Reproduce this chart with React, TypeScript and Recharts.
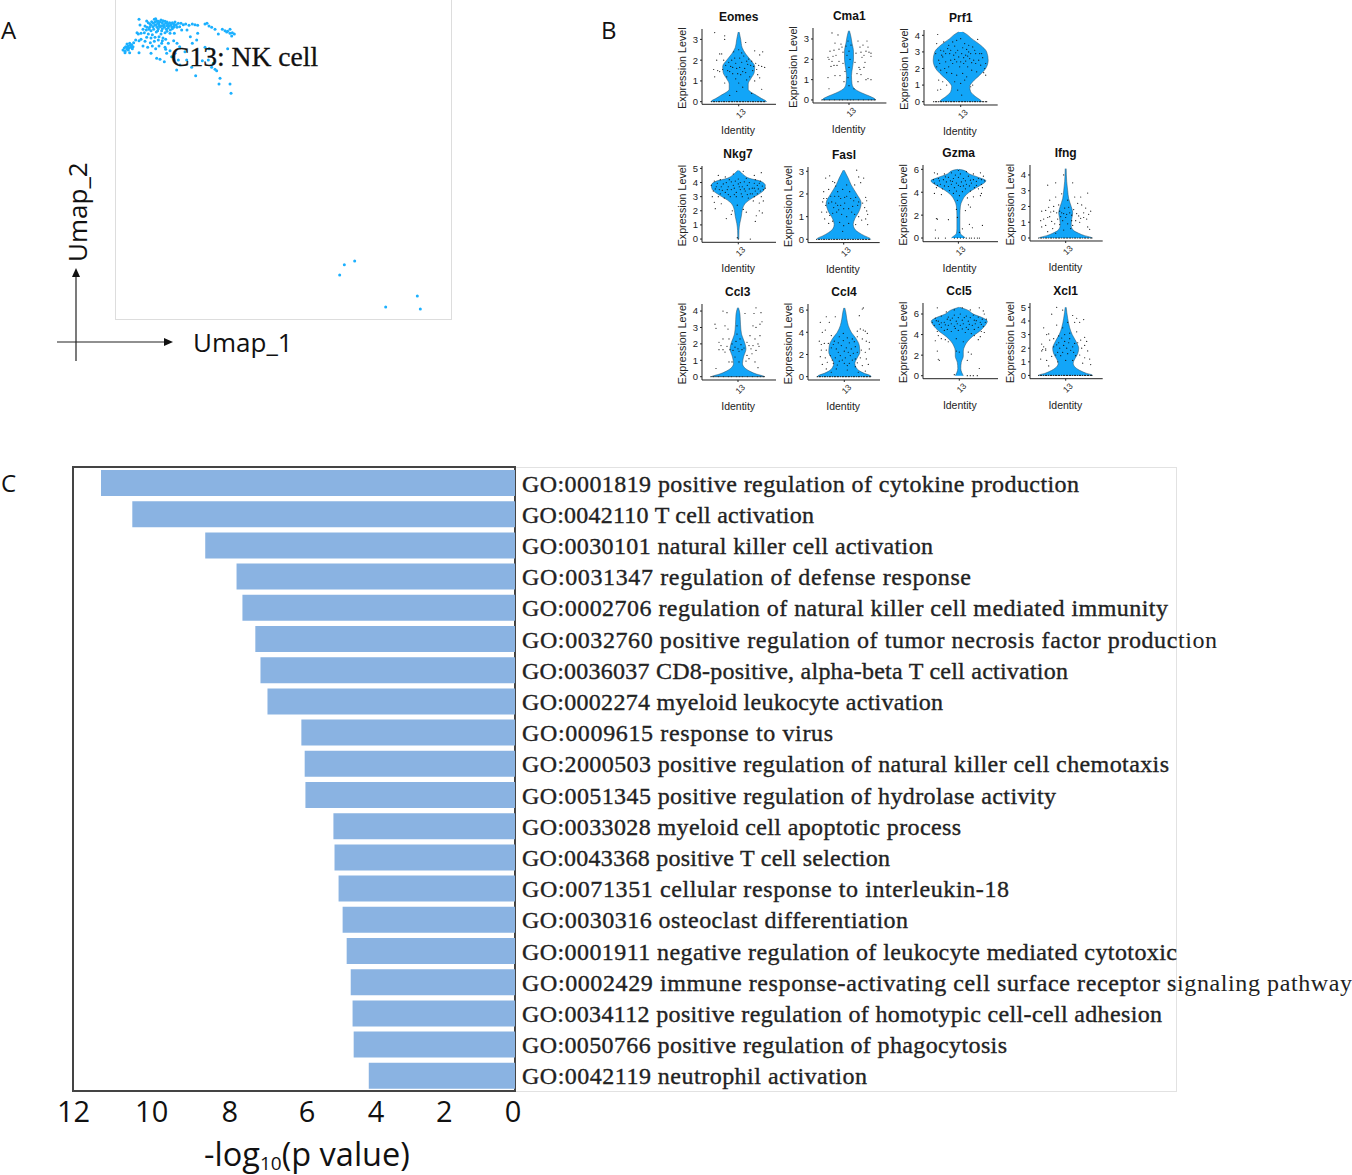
import React from "react";
import { Area, Bar, BarChart, ComposedChart, ReferenceArea, Scatter, ScatterChart, XAxis, YAxis } from "recharts";

// panel A, umap embedding (hidden axes, units are arbitrary)
const umapPoints = [
  [72,28],[75,45],[95,33],[100,38],[105,42],[110,35],[118,28],[122,26],[125,32],[128,38],[132,42],[135,35],[138,30],[142,38],[146,44],[150,34],[152,40],[156,36],[160,42],[164,38],[168,44],[172,38],[176,42],[180,36],[184,44],[190,40],[198,40],[205,44],[212,42],[222,46],[232,42],[240,44],[248,46],[270,42],[276,40],[282,48],[290,52],[300,58],[310,72],[322,58],[330,62],[338,64],[345,70],[352,68],[358,72],[350,78],[345,58],[335,66],
  [90,48],[96,52],[102,58],[108,62],[114,50],[120,46],[126,52],[130,56],[136,50],[142,56],[148,52],[154,58],[160,54],[166,60],[172,56],[178,70],[165,70],[150,68],[138,72],[124,66],[112,74],[100,72],[88,68],[84,58],[78,70],[70,72],[66,68],[95,82],[108,84],[120,82],[132,80],[144,84],[152,88],[142,92],[130,90],[118,94],[106,98],[90,94],[78,88],[72,92],[62,90],[56,98],[50,104],[44,100],[40,108],[36,102],[32,110],[28,114],[24,120],[30,124],[36,118],[42,114],[48,112],[54,110],[44,128],[30,128],[72,128],[84,108],[98,112],[112,108],[122,116],[108,130],[132,108],[140,100],[150,112],[160,100],[176,92],[186,100],[194,110],[200,60],[216,60],[226,80],[232,100],[248,70],[245,90],[165,122],[155,130],[170,140],[148,155],[135,148],[125,145],[152,118],[180,130],[185,180],[195,165],[230,172],[215,150],[262,152],[270,112],[282,116],[338,116],[290,172],[300,178],[305,182],[315,205],[345,222],[312,222],[348,250],[242,197],[280,150],[295,160],[190,150],[210,125],
  [108,46],[115,40],[124,44],[133,47],[140,47],[147,48],[155,47],[162,48],[170,50],[178,48],[186,52],[194,50],[116,58],[128,62],[140,62],[156,64],[104,52],[94,60],[120,36],[130,34],[144,32],[158,46],[176,52],[36,112],[40,120],[46,106],[52,116],
  [674,795],[688,764],[719,753],[812,891],[907,858],[916,897],
];

// panel B, violin outlines as [expression level, half width]
const eomesProfile = [[0,28],[0.05,27],[0.15,23],[0.3,18],[0.45,12.5],[0.6,9.5],[0.85,9.5],[1.1,12],[1.4,15.5],[1.7,16],[2,12],[2.3,7],[2.6,3.5],[3,2],[3.35,0.5]];
const cma1Profile = [[0,27],[0.05,26],[0.18,21],[0.34,13],[0.6,4.5],[0.8,3],[1.2,2.5],[1.6,3.5],[2,4.5],[2.4,4.5],[2.8,3],[3.1,2],[3.4,0.5]];
const prf1Profile = [[0,21],[0.05,20.5],[0.3,15],[0.6,10],[0.9,9],[1.2,12],[1.6,19],[2,25],[2.5,27.5],[3,26],[3.4,20],[3.8,11],[4.1,5],[4.2,2]];
const nkg7Profile = [[0,0.5],[0.6,0.7],[1.1,1.5],[1.6,3],[2.2,4.5],[2.6,8],[2.9,14],[3.2,21],[3.5,26],[3.8,27],[4.1,22],[4.3,11],[4.5,6],[4.7,3],[4.85,0.5]];
const faslProfile = [[0,27],[0.05,26],[0.15,21],[0.3,15],[0.45,11],[0.65,9.5],[0.9,11],[1.2,15],[1.6,17.5],[2,13],[2.4,7.5],[2.7,4.5],[3.05,0.5]];
const gzmaProfile = [[0,7],[0.15,5],[0.4,2],[0.8,1.5],[2,1.5],[2.8,2],[3.3,4],[3.8,8],[4.2,14],[4.6,22],[5,27.5],[5.3,20],[5.6,11],[5.9,6],[6,0.5]];
const ifngProfile = [[0,27],[0.05,25],[0.15,19],[0.3,13],[0.5,7.5],[0.8,5.5],[1.2,6],[1.6,7],[2,5.5],[2.5,3],[3,2],[3.6,1],[4.4,0.5]];
const ccl3Profile = [[0,27],[0.05,25],[0.15,19],[0.3,13],[0.5,7.5],[0.8,4.5],[1.2,5.5],[1.7,8],[2.1,6.5],[2.6,3.5],[3.2,2.5],[3.8,2],[4.2,0.5]];
const ccl4Profile = [[0,27],[0.1,26],[0.3,20],[0.5,15.5],[0.8,12],[1.2,10.5],[1.7,13],[2.2,15.5],[2.8,15],[3.4,12],[4,7],[4.6,4],[5.2,2.5],[5.8,1.5],[6.2,0.5]];
const ccl5Profile = [[0,4],[0.3,2.5],[0.7,1.5],[1.3,2],[1.9,4],[2.4,4],[2.9,5.5],[3.3,8],[3.8,13],[4.3,20],[4.9,26],[5.3,28],[5.6,24],[6,14],[6.4,8],[6.65,0.5]];
const xcl1Profile = [[0,27],[0.05,26],[0.15,21],[0.3,16],[0.6,9.5],[0.9,7.5],[1.2,9],[1.6,12],[2,13],[2.4,11],[3,6.5],[3.5,4],[4.2,2],[5,0.5]];

// jittered cells as [jitter, expression level]
const zeroRow = [[-27,0],[-25,0],[-24,0],[-22,0],[-20,0],[-19,0],[-17,0],[-15,0],[-14,0],[-12,0],[-10,0],[-9,0],[-7,0],[-6,0],[-4,0],[-2,0],[-1,0],[1,0],[2,0],[4,0],[5,0],[7,0],[9,0],[10,0],[12,0],[14,0],[15,0],[17,0],[19,0],[20,0],[22,0],[23,0],[25,0],[26,0]];
const eomesPoints = [[-24,3.33],[-14,3.17],[-14,3.0],[7,2.85],[-19,2.3],[-17,2.3],[16,2.45],[24,2.4],[21,2.25],[-22,2],[-15,2],[17,1.85],[23,1.7],[26,1.65],[20,1.75],[-25,1.55],[-21,1.5],[-19,1.45],[-24,1.2],[-14,0.9],[11,1.2],[19,1.3],[21,1.15],[8,1.05],[-8,1.7],[-4,2.1],[0,2.5],[3,1.9],[6,1.6],[9,1.8],[-6,1.35],[-2,1.6],[2,1.3],[5,2.2],[-10,1.9],[-11,1.5],[12,1.75],[14,1.5],[-3,1.1],[0,0.9],[4,0.7],[-2,0.5],[23,0.6],[13,0.4],[-9,0.3],[10,2.05],[-5,2.4],[7,1.4],[-12,1.2],[16,1.0],[-7,2],[-3,1.85],[1,2.1],[4,1.45],[8,1.95],[-9,1.45],[-13,1.75],[13,1.95],[15,1.7],[18,1.55],[-16,1.55],[-1,1.35],[1,1.65],[3,2.35],[-6,1.65]];
const cma1Points = [[-17,3.3],[-11,3.2],[-14,2.8],[-8,2.75],[-19,2.4],[-15,2.45],[-21,2.1],[-20,2],[-17,1.9],[-13,2.2],[-7,2.6],[-3,2.65],[9,2.9],[18,2.9],[11,2.6],[14,2.7],[19,2.6],[20,2.35],[22,2.3],[17,2.4],[13,2.1],[22,2.15],[-10,1.9],[-12,1.7],[-15,1.7],[-6,1.8],[10,1.6],[11,1.5],[15,1.6],[8,1.3],[12,1.25],[19,1.05],[22,1],[17,1.0],[9,0.9],[-21,1.1],[-14,1.2],[-9,1.2],[-20,0.55],[-5,0.9],[-2,2.2],[0,1.6],[1,2.0],[2,2.7],[-1,1.1],[0,0.7],[5,0.55],[-16,2.15],[-18,1.65],[-6,2.35],[-10,2.5],[12,2.35],[15,2.2],[16,1.85],[7,2.3],[6,1.85],[-4,1.4],[-1,2.9],[0,2.4]];
const prf1Points = [[-23,4.05],[-24,3.5],[-17,3.6],[-25,2.9],[-24,2.1],[-20,3.1],[-15,2.9],[-12,3.4],[-8,3.6],[-4,3.7],[0,3.8],[4,3.5],[8,3.4],[12,3.3],[17,3.75],[15,2.9],[21,2.9],[25,2.3],[24,2],[23,1.75],[25,1.6],[-22,2.5],[-18,2.7],[-15,2.4],[-11,2.9],[-7,2.8],[-3,3.1],[1,2.9],[5,2.8],[9,2.6],[13,2.5],[18,2.5],[20,2.2],[-20,1.9],[-16,2],[-12,2.1],[-8,2.3],[-4,2.4],[0,2.4],[3,2.3],[7,2.1],[11,1.9],[16,1.8],[-9,1.7],[-4,1.6],[2,1.7],[6,1.5],[-6,1.2],[0,1.1],[4,1.3],[12,1],[-20,0.75],[-23,0.7],[-22,1.3],[-14,1],[-18,1.2],[10,0.9],[-3,0.7],[1,0.4],[-6,3.35],[8,3],[-13,3.2],[14,3.1],[-19,2.8],[-17,3.05],[-10,2.5],[-6,2.55],[-2,2.7],[2,3.25],[3,2.65],[6,3.15],[10,2.9],[11,2.35],[15,2.3],[19,2.9],[22,2.65],[-14,1.75],[-10,3.1],[-1,2.1],[5,2.45],[-5,2.95],[-21,2.3],[7,2.75]];
const nkg7Points = [[-20,4.5],[-13,4.4],[-5,4.6],[5,4.8],[16,4.5],[23,4.7],[-24,4.1],[-18,4.2],[-9,4.2],[0,4.25],[8,4.3],[17,4.2],[22,4.1],[-27,3.8],[-22,3.7],[-15,3.9],[-10,3.7],[-5,3.8],[0,3.9],[4,3.7],[9,3.8],[14,3.6],[19,3.8],[24,3.75],[-25,3.4],[-19,3.5],[-13,3.3],[-7,3.5],[-2,3.3],[2,3.5],[7,3.4],[12,3.2],[17,3.4],[22,3.4],[27,3.6],[-26,3],[-20,3],[-14,2.9],[-8,3],[-2,3],[4,3],[10,2.9],[16,3],[23,3],[-24,2.6],[-17,2.5],[15,2.7],[21,2.55],[25,2.7],[-23,2.15],[-6,2],[-7,1.75],[8,1.9],[21,2],[24,1.85],[18,1.65],[-12,1.45],[17,1.25],[5,2.1],[-1,2.4],[-1,0.1],[0,0],[12,0],[-21,3.95],[-17,3.7],[-12,4],[-7,4.05],[-3,4.1],[2,4],[6,4.05],[11,4],[16,3.95],[21,3.95],[-23,3.55],[-16,3.45],[-11,3.5],[-4,3.6],[1,3.7],[6,3.55],[11,3.55],[16,3.6],[20,3.55],[25,3.5],[-18,3.2],[-10,3.15],[-4,3.15],[3,3.2],[9,3.15],[14,3.2],[19,3.2]];
const faslPoints = [[-14,2.8],[-18,2.7],[-11,2.55],[-8,2.35],[-20,2.1],[-15,2.2],[-9,2.5],[-6,2.1],[15,2.75],[20,2.7],[13,3.05],[17,2.5],[11,2.4],[-20,1.8],[-17,1.8],[-21,1.65],[-15,1.6],[-18,1.5],[-13,1.9],[22,1.85],[23,1.7],[19,1.6],[15,1.65],[21,1.4],[23,1.25],[24,1.1],[-22,1.2],[-17,1.2],[-14,1.05],[-19,0.9],[-15,0.7],[-11,0.8],[15,1],[18,0.85],[22,0.9],[24,0.65],[12,0.65],[-8,1.6],[-5,1.9],[-1,2.2],[3,2.4],[7,1.8],[10,1.7],[-3,1.5],[1,1.6],[5,1.35],[-7,1.2],[-2,1.1],[3,1],[8,1.2],[-4,0.75],[0,0.6],[5,0.7],[-1,0.35],[3,1.9],[-10,1.4],[-12,1.65],[-9,1.9],[-6,1.5],[-3,1.8],[1,1.85],[6,2.1],[9,1.45],[12,1.85],[14,1.5],[-11,1.15],[-5,1.3],[0,1.35],[11,1.1]];
const gzmaPoints = [[-24,5.7],[-21,5.6],[-14,5.6],[-7,5.7],[0,5.9],[8,5.8],[15,5.6],[22,5.7],[25,5.4],[-25,5.1],[-20,5.2],[-15,5.1],[-10,5.3],[-5,5.2],[0,5.3],[5,5.2],[10,5.4],[15,5.1],[20,5.2],[26,5],[-24,4.8],[-18,4.7],[-12,4.9],[-7,4.7],[-2,4.8],[3,4.9],[8,4.7],[13,4.8],[18,4.6],[23,4.7],[-22,4.4],[-16,4.3],[-10,4.5],[-4,4.4],[2,4.5],[7,4.3],[12,4.1],[20,4.3],[24,4.4],[23,3.9],[-24,3.9],[-17,3.8],[-5,3.9],[1,3.7],[9,3.5],[15,3.6],[22,3.7],[-1,3.3],[10,2.9],[12,2.7],[7,2.4],[-2,2.5],[-22,1.7],[-21,1.65],[-10,1.6],[-1,1.8],[11,1.2],[14,0.9],[-23,0.7],[4,0.8],[1,0.5],[-23,0],[-20,0],[-13,0],[24,1.1],[-4,0],[-1,0],[2,0],[5,0],[8,0],[11,0],[13,0],[16,0],[19,0],[21,0],[-19,5],[-13,5.35],[-8,5],[-3,5.5],[2,5.6],[7,5],[12,5.05],[18,4.95],[23,5.1],[-21,4.6],[-14,4.55],[-6,4.95],[0,4.6],[5,4.55],[11,4.55],[16,4.4],[-9,4.15],[-2,4.1],[4,4.05]];
const ifngPoints = [[-18,3.35],[-10,3.5],[-2,4],[7,3.5],[-16,2.4],[-10,2.6],[-4,2.8],[9,2.6],[15,2.6],[22,2.85],[-17,1.95],[-12,2],[-7,2.1],[2,2.4],[12,2.2],[16,2.1],[20,1.9],[-24,1.7],[-20,1.75],[-15,1.65],[-12,1.7],[-6,1.7],[-4,1.6],[-1,1.9],[1,1.5],[4,1.6],[8,1.8],[11,1.55],[18,1.6],[23,1.5],[25,1.7],[-25,1.1],[-22,1.2],[-18,1.3],[-14,1.05],[-8,1.2],[-3,1.1],[0,1.3],[2,0.9],[6,1.1],[10,1.1],[14,1],[18,1.3],[21,1.2],[-24,0.7],[-20,0.8],[-13,0.6],[-2,0.5],[5,0.6],[22,0.7],[24,0.55],[-18,0.4],[-10,0.3],[-9,1.6],[-5,1.35],[-2,1.55],[3,1.95],[6,1.45],[13,1.4],[15,1.25],[-16,1.35],[-11,0.9],[-6,0.85],[7,0.8]];
const ccl3Points = [[-15,4],[-11,3.9],[7,3.85],[18,4.2],[16,3.85],[23,3.9],[-23,3.2],[-22,2.95],[-13,3.1],[-10,2.9],[15,3.1],[18,3],[22,3.2],[24,3.35],[12,2.5],[22,2.5],[-19,2.1],[-15,2.3],[-9,2.3],[9,2.1],[17,2.3],[20,2],[15,1.9],[-19,1.65],[-15,1.65],[-11,1.85],[-8,1.65],[-3,1.8],[2,2.3],[4,1.65],[9,1.3],[14,1.4],[18,1.6],[-9,0.9],[-6,0.9],[-3,1.2],[1,0.9],[8,0.95],[11,1.1],[17,0.9],[20,0.55],[-22,0.5],[-1,2.6],[0,1.7],[-1,3.1],[-5,1.6],[-2,2.15],[1,1.55],[3,1.95],[-6,2],[6,1.75],[11,1.9],[13,1.7],[-13,1.5],[21,1.85],[-17,1.9]];
const ccl4Points = [[-24,4.9],[-18,5.4],[-9,5.4],[15,5.5],[18,6.1],[19,6.2],[-22,4],[-19,4.2],[-13,3.7],[13,4.1],[16,4.3],[19,4.2],[21,4.1],[23,3.9],[-25,3.2],[-23,2.9],[-20,3],[-16,3],[-10,3.2],[-5,3.6],[-1,3.9],[3,3.5],[8,3.4],[13,3.6],[18,3.4],[22,3.2],[25,3.1],[-23,2.4],[-18,2.4],[-13,2.6],[-8,2.5],[-3,2.8],[2,2.6],[7,2.5],[11,2.7],[17,2.4],[21,2.2],[25,2.5],[-24,1.8],[-19,1.7],[-14,1.9],[-9,1.7],[-4,1.9],[1,1.7],[6,1.9],[11,1.6],[16,1.7],[22,1.6],[-22,1.1],[-17,1.3],[-11,1.2],[-5,1.4],[0,1.2],[5,1.2],[11,0.9],[18,1],[24,1.1],[-18,0.7],[-8,0.7],[3,0.6],[21,0.5],[-13,0.4],[14,0.4],[-15,4.9],[-6,3.05],[-1,3.25],[5,3.05],[10,3.15],[-11,2.9],[-6,2.2],[0,2.3],[4,2.2],[9,2.1],[13,2.2],[-12,1.5],[-2,1.5],[8,1.5],[-7,1.05],[3,1],[13,1.25]];
const ccl5Points = [[-22,6.6],[-13,6.2],[-5,6.4],[3,6.6],[11,6.4],[20,6.6],[24,6.3],[-24,5.6],[-18,5.8],[-11,5.7],[-5,5.9],[1,6],[7,5.8],[14,5.9],[19,5.7],[25,6],[27,5.5],[-27,5.2],[-21,5.3],[-15,5.2],[-9,5.4],[-3,5.3],[3,5.4],[9,5.3],[15,5.4],[21,5.2],[26,5.2],[-25,4.9],[-18,4.7],[-11,4.9],[-5,4.8],[1,4.9],[7,4.7],[13,4.9],[19,4.7],[24,4.8],[-22,4.3],[-15,4.4],[-8,4.3],[-1,4.4],[6,4.2],[12,4.1],[22,4.3],[25,4.2],[-21,3.9],[-14,3.5],[-18,3.6],[-24,3.4],[-11,3.3],[-3,3.6],[4,3.3],[15,3.9],[19,3.5],[21,3.8],[-3,2.4],[0,2.3],[9,2.3],[12,2.1],[-22,2.4],[-21,1.6],[-20,1.5],[8,1.5],[20,0.7],[-5,0.1],[8,0],[11,0],[14,0],[18,0],[-23,5.35],[-18,5.15],[-12,5.5],[-7,5.6],[-1,5.65],[5,5.65],[11,5.65],[17,5.35],[23,5.5],[-20,5],[-14,4.95],[-8,5.05],[-2,5.05],[4,5.05],[10,5],[16,5.05],[22,5],[-12,4.5],[-4,4.6],[3,4.55],[9,4.5],[15,4.5]];
const xcl1Points = [[-22,3.5],[-19,3],[-14,4.5],[-17,3.05],[-9,5],[-3,4.8],[7,4.4],[11,4.2],[-9,3.7],[-3,3.5],[2,3.9],[9,3.9],[14,3.9],[18,4.1],[-24,2.3],[-22,2.1],[-20,1.95],[-23,1.9],[-20,1.85],[-24,1.8],[-16,2.6],[-12,2.7],[-7,2.9],[-1,3],[4,3.1],[11,3.2],[15,2.6],[19,2.8],[21,2.5],[-12,2.1],[-7,2.4],[-2,2.2],[3,2.4],[7,2.1],[12,2.4],[16,2],[19,2.2],[22,1.8],[-25,1.2],[-19,1.1],[-14,1.4],[-8,1.7],[-3,1.7],[2,1.6],[8,1.7],[14,1.5],[19,1.3],[24,1.2],[-17,0.7],[-8,1],[0,1.1],[7,1.1],[17,0.9],[25,0.8],[-6,2],[-1,2.5],[1,2],[5,1.85],[9,2.35],[-9,2.25],[-5,1.45],[4,2.7],[-4,2.75],[10,1.45],[-10,1.5]];

// layout of each violin: gene, outline, cells, y domain, y ticks, [axis x, right end, centre, plot top, plot bottom]
const violins: any[] = [
  { gene: "Eomes", profile: eomesProfile, points: [...eomesPoints, ...zeroRow], domain: [-0.125, 3.5], ticks: [0,1,2,3], box: [702, 776, 738.7, 29, 104.3] },
  { gene: "Cma1", profile: cma1Profile, points: [...cma1Points, ...zeroRow], domain: [-0.15, 3.54], ticks: [0,1,2,3], box: [813.3, 886.7, 849.3, 28.3, 103.3] },
  { gene: "Prf1", profile: prf1Profile, points: [...prf1Points, ...zeroRow], domain: [-0.2, 4.32], ticks: [0,1,2,3,4], box: [924, 997.7, 960.7, 30, 105] },
  { gene: "Nkg7", profile: nkg7Profile, points: nkg7Points, domain: [-0.23, 5.17], ticks: [0,1,2,3,4,5], box: [701.7, 776, 738, 166, 242.3] },
  { gene: "Fasl", profile: faslProfile, points: [...faslPoints, ...zeroRow], domain: [-0.146, 3.19], ticks: [0,1,2,3], box: [808.3, 880, 844, 166.7, 242.3] },
  { gene: "Gzma", profile: gzmaProfile, points: gzmaPoints, domain: [-0.32, 6.38], ticks: [0,2,4,6], box: [923.3, 998.3, 958.7, 165, 241.7] },
  { gene: "Ifng", profile: ifngProfile, points: [...ifngPoints, ...zeroRow], domain: [-0.19, 4.63], ticks: [0,1,2,3,4], box: [1030, 1102.7, 1065.7, 165, 241] },
  { gene: "Ccl3", profile: ccl3Profile, points: [...ccl3Points, ...zeroRow], domain: [-0.2, 4.43], ticks: [0,1,2,3,4], box: [701.7, 776, 737.7, 304, 380] },
  { gene: "Ccl4", profile: ccl4Profile, points: [...ccl4Points, ...zeroRow], domain: [-0.3, 6.55], ticks: [0,2,4,6], box: [807.7, 880, 844, 304, 380] },
  { gene: "Ccl5", profile: ccl5Profile, points: ccl5Points, domain: [-0.29, 7.07], ticks: [0,2,4,6], box: [922.7, 998.3, 959, 303.3, 379] },
  { gene: "Xcl1", profile: xcl1Profile, points: [...xcl1Points, ...zeroRow], domain: [-0.24, 5.32], ticks: [0,1,2,3,4,5], box: [1030, 1102.7, 1065.7, 303.3, 379] },
];

// panel C
const goTerms = [
  "GO:0001819 positive regulation of cytokine production",
  "GO:0042110 T cell activation",
  "GO:0030101 natural killer cell activation",
  "GO:0031347 regulation of defense response",
  "GO:0002706 regulation of natural killer cell mediated immunity",
  "GO:0032760 positive regulation of tumor necrosis factor production",
  "GO:0036037 CD8-positive, alpha-beta T cell activation",
  "GO:0002274 myeloid leukocyte activation",
  "GO:0009615 response to virus",
  "GO:2000503 positive regulation of natural killer cell chemotaxis",
  "GO:0051345 positive regulation of hydrolase activity",
  "GO:0033028 myeloid cell apoptotic process",
  "GO:0043368 positive T cell selection",
  "GO:0071351 cellular response to interleukin-18",
  "GO:0030316 osteoclast differentiation",
  "GO:0001911 negative regulation of leukocyte mediated cytotoxic",
  "GO:0002429 immune response-activating cell surface receptor signaling pathway",
  "GO:0034112 positive regulation of homotypic cell-cell adhesion",
  "GO:0050766 positive regulation of phagocytosis",
  "GO:0042119 neutrophil activation",
];
const goValues = [11.24,10.39,8.41,7.56,7.4,7.05,6.91,6.72,5.8,5.71,5.69,4.93,4.9,4.79,4.68,4.57,4.46,4.41,4.38,3.97];
const goTicks = [12,10,8,6,4,2,0];
// the hand placed axis numbers in the figure drift from the true scale
const goTickNudge: Record<number, number> = { 12: 0.5, 10: 5, 8: 9.5, 6: 13, 4: 8.5, 2: 3, 0: -2 };
// rendered width of each label, the source font is not installed
const goLabelWidths = [557,292,411,449,646,695,546,421,311,647,534,439,368,487,386,655,830,640,485,345];
// these label ends spill out of the pasted picture and look lighter
const goLightTails: Record<string, string> = {
  "GO:0032760 positive regulation of tumor necrosis factor production": "tion",
  "GO:0002429 immune response-activating cell surface receptor signaling pathway": "ignaling pathway",
};

const goData = goTerms.map((term, i) => ({ term, value: goValues[i] }));
const umapData = umapPoints.map(([x, y]) => ({ x, y }));

const SANS = "'Open Sans', sans-serif";
const SERIF = "'Liberation Serif', serif";
const ARIAL = "'Liberation Sans', sans-serif";

function Dot({ cx, cy, r, fill }: any) {
  return <circle cx={cx} cy={cy} r={r} fill={fill} />;
}

function ExpressionLabel({ viewBox, axisX }: any) {
  const x = axisX - 19;
  const y = viewBox.y + viewBox.height / 2 + 1.5;
  return (
    <text transform={`translate(${x},${y}) rotate(-90)`} textAnchor="middle" dominantBaseline="middle" fontFamily={ARIAL} fontSize={10.7} fill="#222">
      Expression Level
    </text>
  );
}

function Violin({ v }: { v: any }) {
  const [axisX, right, centre, top, bottom] = v.box;
  const yAxisW = 30;
  const pad = 8;
  const data = v.profile.map(([level, w]: number[]) => ({ level, band: [-w, w] }));
  const cells = v.points.map(([x, level]: number[]) => ({ x, level }));
  const w = right - axisX + yAxisW;
  const h = bottom - top + 34 + pad * 2;
  return (
    <div style={{ position: "absolute", left: axisX - yAxisW, top: top - pad, width: w, height: h }}>
      <div style={{ position: "absolute", left: centre - axisX + yAxisW - 40, width: 80, top: pad - 19, textAlign: "center", fontFamily: ARIAL, fontWeight: 700, fontSize: 12, color: "#111" }}>
        {v.gene}
      </div>
      <ComposedChart
        layout="vertical"
        width={w}
        height={h}
        data={data}
        margin={{ top: pad, right: 0, bottom: pad, left: 0 }}
      >
        <XAxis
          type="number"
          dataKey="x"
          domain={[axisX - centre, right - centre]}
          ticks={[0]}
          allowDataOverflow
          height={34}
          tickSize={2}
          angle={-45}
          textAnchor="middle"
          dy={3}
          tickFormatter={() => "13"}
          tick={{ fontSize: 8.5, fontFamily: ARIAL, fill: "#222" }}
          stroke="#222"
          label={{ value: "Identity", position: "insideBottom", offset: 4, dx: -1, fontSize: 10.5, fontFamily: ARIAL, fill: "#222" }}
        />
        <YAxis
          type="number"
          dataKey="level"
          domain={v.domain}
          ticks={v.ticks}
          reversed
          allowDataOverflow
          width={yAxisW}
          tickSize={2}
          tickMargin={2}
          interval={0}
          tick={{ fontSize: 9.5, fontFamily: ARIAL, fill: "#222" }}
          stroke="#222"
          label={<ExpressionLabel axisX={yAxisW} />}
        />
        <Area dataKey="band" type="monotone" fill="#12A5F8" fillOpacity={1} stroke="#2a4a60" strokeWidth={0.5} dot={false} activeDot={false} isAnimationActive={false} />
        <Scatter data={cells} isAnimationActive={false} shape={(p: any) => <Dot cx={p.cx} cy={p.cy} r={0.6} fill="#111" />} />
      </ComposedChart>
    </div>
  );
}

function GoTick({ x, y, payload, index }: any) {
  const term = payload.value;
  const tail = goLightTails[term];
  const head = tail ? term.slice(0, term.length - tail.length) : term;
  return (
    <text x={x + 1} y={y} dy={9} fontFamily={SERIF} fontSize={24} textLength={goLabelWidths[index]} fill="#222">
      <tspan stroke="#222" strokeWidth={0.35}>{head}</tspan>
      {tail ? <tspan>{tail}</tspan> : null}
    </text>
  );
}

function ValueTick({ x, y, payload }: any) {
  return (
    <text x={x + goTickNudge[payload.value]} y={y} dy={23} textAnchor="middle" fontFamily={SANS} fontSize={29} fill="#111">
      {payload.value}
    </text>
  );
}

function ValueLabel({ viewBox }: any) {
  return (
    <text x={viewBox.x + 234} y={701} textAnchor="middle" fontFamily={SANS} fontSize={32.5} fill="#111">
      -log
      <tspan fontSize={19} dy={4}>10</tspan>
      <tspan dy={-4}>(p value)</tspan>
    </text>
  );
}

const letter = (text: string, left: number, top: number) => (
  <div style={{ position: "absolute", left, top, fontFamily: SANS, fontSize: 24, lineHeight: "30px", color: "#111" }}>{text}</div>
);

export default function App() {
  return (
    <div style={{ position: "absolute", left: 0, top: 0, width: 1352, height: 1175, background: "#fff", overflow: "hidden" }}>
      {letter("A", 1, 15)}
      {letter("B", 601, 15)}
      {letter("C", 1, 468)}

      {/* A */}
      <div style={{ position: "absolute", left: 115, top: 0, width: 337, height: 320, boxSizing: "border-box", borderLeft: "1px solid #ddd", borderRight: "1px solid #ddd", borderBottom: "1px solid #ddd" }} />
      <div style={{ position: "absolute", left: 115, top: 0 }}>
        <ScatterChart width={336} height={319} margin={{ top: 0, right: 0, bottom: 0, left: 0 }}>
          <XAxis type="number" dataKey="x" domain={[0, 1008]} hide />
          <YAxis type="number" dataKey="y" domain={[-30, 927]} reversed hide />
          <Scatter data={umapData} isAnimationActive={false} shape={(p: any) => <Dot cx={p.cx} cy={p.cy} r={1.5} fill="#1BB0FF" />} />
        </ScatterChart>
      </div>
      <div style={{ position: "absolute", left: 171, top: 40, fontFamily: SERIF, fontSize: 27.6, lineHeight: "34px", color: "#111", whiteSpace: "nowrap", WebkitTextStroke: "0.3px #111" }}>C13: NK cell</div>
      <svg style={{ position: "absolute", left: 0, top: 0 }} width={300} height={380}>
        <line x1={57} y1={342} x2={166} y2={342} stroke="#222" strokeWidth={1.2} />
        <polygon points="173,342 164,338 164,346" fill="#111" />
        <line x1={76} y1={361} x2={76} y2={275} stroke="#222" strokeWidth={1.2} />
        <polygon points="76,268 72,277 80,277" fill="#111" />
        <text x={193} y={352} fontFamily={SANS} fontSize={26} fill="#111">Umap_1</text>
        <text transform="translate(87,262) rotate(-90)" fontFamily={SANS} fontSize={26} fill="#111">Umap_2</text>
      </svg>

      {/* B */}
      {violins.map((v) => <Violin key={v.gene} v={v} />)}

      {/* C */}
      <div style={{ position: "absolute", left: 516, top: 467, width: 661, height: 625, boxSizing: "border-box", borderTop: "1px solid #e2e2e2", borderRight: "1.5px solid #e2e2e2", borderBottom: "1.5px solid #e2e2e2" }} />
      <div style={{ position: "absolute", left: 33, top: 465 }}>
        <BarChart layout="vertical" width={1319} height={710} data={goData} margin={{ top: 2, right: 0, bottom: 0, left: 40 }} barCategoryGap={0}>
          <XAxis type="number" domain={[0, 12]} reversed ticks={goTicks} interval={0} height={84} axisLine={false} tickLine={false} tick={<ValueTick />} label={<ValueLabel />} />
          <YAxis type="category" dataKey="term" orientation="right" width={837} interval={0} axisLine={false} tickLine={false} tickMargin={0} tick={<GoTick />} />
          <Bar dataKey="value" fill="#8AB3E2" barSize={26} isAnimationActive={false} />
          <ReferenceArea x1={12} x2={0} fill="none" stroke="#444" strokeWidth={2} ifOverflow="visible" />
        </BarChart>
      </div>
    </div>
  );
}
